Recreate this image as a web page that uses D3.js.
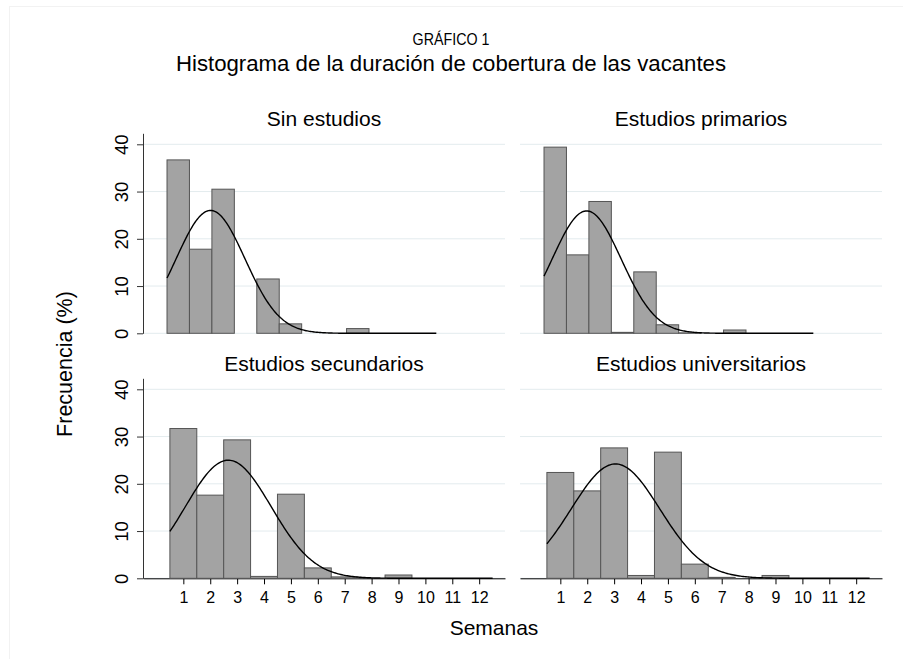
<!DOCTYPE html>
<html>
<head>
<meta charset="utf-8">
<script src="https://cdn.jsdelivr.net/npm/d3@7/dist/d3.min.js"></script>
<style>
  body { margin: 0; background: #fff; }
  text { font-family: "Liberation Sans", Arial, sans-serif; fill: #000; }
</style>
</head>
<body>
<div id="chart"></div>
<script>
// Weekly bins (Semanas) and frequency (%) per education level
const weeks = [1, 2, 3, 4, 5, 6, 7, 8, 9, 10, 11, 12];
const panelTitles = ["Sin estudios", "Estudios primarios", "Estudios secundarios", "Estudios universitarios"];
const sinEstudios = [36.7, 17.8, 30.5, 0, 11.5, 2.0, 0, 0, 1.0, 0, 0, 0];
const primarios = [39.4, 16.6, 27.9, 0.2, 13.0, 1.8, 0.1, 0, 0.7, 0, 0, 0];
const secundarios = [31.7, 17.6, 29.3, 0.4, 17.8, 2.2, 0.3, 0, 0.7, 0, 0, 0];
const universitarios = [22.4, 18.5, 27.6, 0.6, 26.7, 3.0, 0.2, 0, 0.6, 0, 0, 0];
// Normal density overlay: mean and peak height (%)
const curveMean = [2.44, 2.40, 2.67, 3.05];
const curvePeak = [26.0, 25.9, 25.0, 24.2];
const yTicks = [0, 10, 20, 30, 40];

const series = [sinEstudios, primarios, secundarios, universitarios];

const width = 903, height = 659;
const plotW = 362, plotH = 200;
const colX = [143, 520];
const rowY = [133.3, 378.3];

const svg = d3.select("#chart").append("svg")
    .attr("width", width)
    .attr("height", height);

// faint outer frame
svg.append("rect")
    .attr("x", 9.5).attr("y", 6.5)
    .attr("width", 1000).attr("height", 1000)
    .attr("fill", "none")
    .attr("stroke", "#f2f2f2");

// titles
svg.append("text")
    .attr("transform", "translate(451,45) scale(0.84,1)")
    .attr("text-anchor", "middle")
    .attr("font-size", "17px")
    .text("GRÁFICO 1");

svg.append("text")
    .attr("x", 451).attr("y", 71)
    .attr("text-anchor", "middle")
    .attr("font-size", "22.2px")
    .text("Histograma de la duración de cobertura de las vacantes");

const y = d3.scaleLinear().domain([0, 42.33]).range([plotH, 0]);

series.forEach((values, i) => {
    const row = Math.floor(i / 2), col = i % 2;
    const x = d3.scaleLinear()
        .domain(row === 0 ? [-0.57, 15.56] : [-0.5, 12.96])
        .range([0, plotW]);

    const g = svg.append("g")
        .attr("transform", `translate(${colX[col]},${rowY[row]})`);

    // panel title
    g.append("text")
        .attr("x", plotW / 2)
        .attr("y", -7)
        .attr("text-anchor", "middle")
        .attr("font-size", "21px")
        .text(panelTitles[i]);

    // gridlines
    g.selectAll(".grid")
        .data(yTicks)
        .enter().append("line")
        .attr("x1", 0).attr("x2", plotW)
        .attr("y1", d => y(d)).attr("y2", d => y(d))
        .attr("stroke", "#e3ecee")
        .attr("stroke-width", 1);

    // x axis on bottom row
    if (row === 1) {
        const xAxis = g.append("g")
            .attr("transform", `translate(0,${plotH})`)
            .call(d3.axisBottom(x).tickValues(weeks).tickSize(6).tickSizeOuter(0));
        xAxis.select(".domain").attr("stroke", "#000");
        xAxis.selectAll(".tick line").attr("stroke", "#000");
        xAxis.selectAll(".tick text")
            .attr("y", 25).attr("dy", 0)
            .attr("font-size", "16px")
            .attr("font-family", "Liberation Sans, Arial, sans-serif")
            .attr("fill", "#000");
    }

    // bars
    g.selectAll(".bar")
        .data(weeks.map((w, j) => ({ w, v: values[j] })))
        .enter().append("rect")
        .attr("x", d => x(d.w - 0.5))
        .attr("width", d => x(d.w + 0.5) - x(d.w - 0.5))
        .attr("y", d => y(d.v))
        .attr("height", d => y(0) - y(d.v))
        .attr("fill", "#a3a3a3")
        .attr("stroke", "#555")
        .attr("stroke-width", 1);

    // normal density curve
    const mu = curveMean[i];
    const sd = 100 / (curvePeak[i] * Math.sqrt(2 * Math.PI));
    const pts = d3.range(0.5, 12.5001, 0.05).map(t => [t, curvePeak[i] * Math.exp(-0.5 * ((t - mu) / sd) ** 2)]);
    g.append("path")
        .datum(pts)
        .attr("fill", "none")
        .attr("stroke", "#000")
        .attr("stroke-width", 1.4)
        .attr("d", d3.line().x(d => x(d[0])).y(d => y(d[1])));

    // y axis on left column
    if (col === 0) {
        const yAxis = g.append("g")
            .call(d3.axisLeft(y).tickValues(yTicks).tickSize(6).tickSizeOuter(0));
        yAxis.select(".domain").attr("stroke", "#333");
        yAxis.selectAll(".tick line").attr("stroke", "#333");
        yAxis.selectAll(".tick text")
            .attr("transform", "rotate(-90)")
            .attr("x", 0).attr("y", -15.5).attr("dy", 0)
            .attr("text-anchor", "middle")
            .attr("font-size", "18.5px")
            .attr("font-family", "Liberation Sans, Arial, sans-serif")
            .attr("fill", "#000");
    }
});

// axis titles
svg.append("text")
    .attr("transform", "translate(72,364) rotate(-90)")
    .attr("text-anchor", "middle")
    .attr("font-size", "21.5px")
    .text("Frecuencia (%)");

svg.append("text")
    .attr("x", 494).attr("y", 635)
    .attr("text-anchor", "middle")
    .attr("font-size", "21px")
    .text("Semanas");
</script>
</body>
</html>
